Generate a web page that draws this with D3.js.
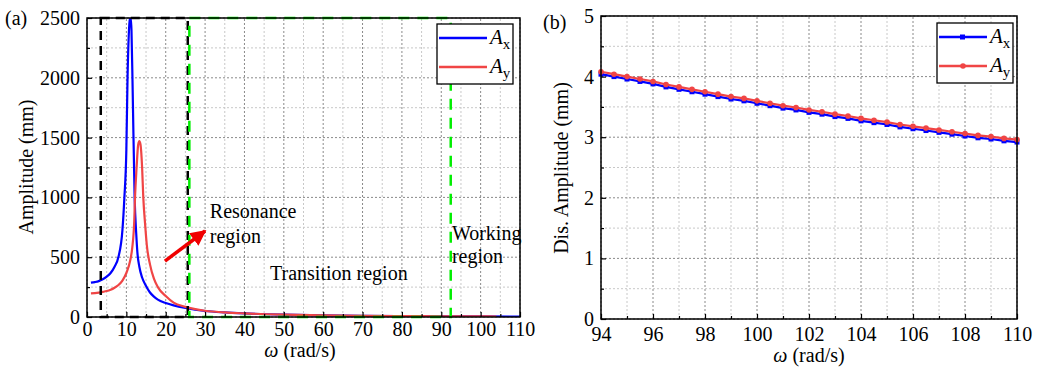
<!DOCTYPE html>
<html>
<head>
<meta charset="utf-8">
<script src="https://cdn.jsdelivr.net/npm/d3@7"></script>
<style>
  body { margin: 0; background: #fff; }
  svg text { font-family: "Liberation Serif", "DejaVu Serif", serif !important; }
</style>
</head>
<body>
<svg id="chart" width="1041" height="370"></svg>
<script>
// panel (a): frequency response
const axOmega = [1, 2, 3, 4, 5, 6, 7, 8, 9, 9.5, 10, 10.3, 10.6, 10.9, 11.1, 11.3, 11.6, 12.1, 12.5, 12.8, 13.3, 14, 15, 16, 17, 18, 20, 22, 25, 30, 35, 40, 50, 60, 70, 80, 90, 100, 110];
const axAmp = [287, 292, 300, 315, 337, 368, 420, 504, 727, 1000, 1400, 2000, 2350, 2490, 2500, 2400, 1900, 1000, 700, 540, 420, 330, 260, 205, 170, 145, 117, 97, 75, 50, 38, 30, 20, 14, 10, 8, 6, 5, 4];
const ayOmega = [1, 2, 3, 4, 5, 6, 7, 8, 9, 10, 11, 11.5, 12, 12.2, 12.6, 13, 13.3, 13.6, 14, 14.3, 14.8, 15.2, 16, 17, 18, 20, 22, 25, 30, 35, 40, 50, 60, 70, 80, 90, 100, 104];
const ayAmp = [198, 200, 204, 210, 217, 228, 245, 268, 305, 368, 476, 580, 800, 1000, 1250, 1440, 1470, 1440, 1250, 1000, 760, 600, 440, 320, 250, 175, 120, 85, 52, 38, 30, 20, 14, 10, 8, 6, 5, 4];
const aXTicks = [0, 10, 20, 30, 40, 50, 60, 70, 80, 90, 100, 110];
const aYTicks = [0, 500, 1000, 1500, 2000, 2500];
const resonanceBox = [3.5, 25.6];
const transitionBox = [26, 92.4];

// panel (b): zoom on working region
const bOmega = [94, 94.5, 95, 95.5, 96, 96.5, 97, 97.5, 98, 98.5, 99, 99.5, 100, 100.5, 101, 101.5, 102, 102.5, 103, 103.5, 104, 104.5, 105, 105.5, 106, 106.5, 107, 107.5, 108, 108.5, 109, 109.5, 110];
const bAx = [4.04, 4.00, 3.96, 3.92, 3.88, 3.83, 3.79, 3.75, 3.71, 3.67, 3.63, 3.60, 3.56, 3.52, 3.48, 3.45, 3.41, 3.38, 3.34, 3.31, 3.27, 3.24, 3.21, 3.17, 3.14, 3.11, 3.08, 3.05, 3.02, 2.99, 2.97, 2.94, 2.92];
const bAy = [4.08, 4.04, 4.00, 3.96, 3.92, 3.87, 3.83, 3.79, 3.75, 3.71, 3.67, 3.64, 3.60, 3.56, 3.52, 3.49, 3.45, 3.42, 3.38, 3.35, 3.31, 3.28, 3.25, 3.21, 3.18, 3.15, 3.12, 3.09, 3.06, 3.03, 3.01, 2.98, 2.96];
const bXTicks = [94, 96, 98, 100, 102, 104, 106, 108, 110];
const bYTicks = [0, 1, 2, 3, 4, 5];

const BLUE = "#0000ff", RED = "#f04545";
const FONT = '"Liberation Serif", serif';
const svg = d3.select("#chart").attr("font-family", FONT);

const defs = svg.append("defs");
defs.append("marker").attr("id", "arr")
  .attr("viewBox", "0 0 10 10").attr("refX", 9).attr("refY", 5)
  .attr("markerWidth", 4.5).attr("markerHeight", 4.5).attr("orient", "auto")
  .append("path").attr("d", "M0,0L10,5L0,10z").attr("fill", "#f00000");

function frame(g, x, y, xTicks, yTicks, xMinor, yMinor) {
  const [x0, x1] = x.range(), [y0, y1] = y.range();
  // minor grid
  g.append("g").selectAll("line").data(xMinor).join("line")
    .attr("x1", d => x(d)).attr("x2", d => x(d)).attr("y1", y0).attr("y2", y1)
    .attr("stroke", "#c8c8c8").attr("stroke-dasharray", "2,2");
  g.append("g").selectAll("line").data(yMinor).join("line")
    .attr("y1", d => y(d)).attr("y2", d => y(d)).attr("x1", x0).attr("x2", x1)
    .attr("stroke", "#c8c8c8").attr("stroke-dasharray", "2,2");
  // major grid
  g.append("g").selectAll("line").data(xTicks).join("line")
    .attr("x1", d => x(d)).attr("x2", d => x(d)).attr("y1", y0).attr("y2", y1)
    .attr("stroke", "#8a8a8a").attr("stroke-dasharray", "2,2");
  g.append("g").selectAll("line").data(yTicks).join("line")
    .attr("y1", d => y(d)).attr("y2", d => y(d)).attr("x1", x0).attr("x2", x1)
    .attr("stroke", "#8a8a8a").attr("stroke-dasharray", "2,2");
}

function axes(g, x, y, xTicks, yTicks, xMinor, yMinor, xPad) {
  const [x0, x1] = x.range(), [y0, y1] = y.range();
  g.append("g").attr("transform", `translate(0,${y0})`)
    .call(d3.axisBottom(x).tickValues(xTicks).tickSize(-5).tickPadding(xPad).tickFormat(d3.format("d")));
  g.append("g").attr("transform", `translate(0,${y0})`)
    .call(d3.axisBottom(x).tickValues(xMinor).tickSize(-3).tickFormat(""));
  g.append("g").attr("transform", `translate(${x0},0)`)
    .call(d3.axisLeft(y).tickValues(yTicks).tickSize(-5).tickPadding(7).tickFormat(d3.format("d")));
  g.append("g").attr("transform", `translate(${x0},0)`)
    .call(d3.axisLeft(y).tickValues(yMinor).tickSize(-3).tickFormat(""));
  g.selectAll(".domain").remove();
  g.selectAll(".tick line").attr("stroke", "#000").attr("stroke-width", 1.2);
  g.selectAll(".tick text").attr("font-size", 20).attr("fill", "#000").attr("font-family", FONT);
  g.append("rect").attr("x", x0).attr("y", y1).attr("width", x1 - x0).attr("height", y0 - y1)
    .attr("fill", "none").attr("stroke", "#000").attr("stroke-width", 1.5);
}

function legend(g, bx, by, markers) {
  g.append("rect").attr("x", bx).attr("y", by).attr("width", 76).attr("height", 60)
    .attr("fill", "#fff").attr("stroke", "#000").attr("stroke-width", 1.3);
  const items = [{c: BLUE, s: "x", m: "rect"}, {c: RED, s: "y", m: "circle"}];
  items.forEach((it, i) => {
    const yy = by + 14 + i * 29;
    g.append("line").attr("x1", bx + 2).attr("x2", bx + 50).attr("y1", yy).attr("y2", yy)
      .attr("stroke", it.c).attr("stroke-width", 2.5);
    if (markers) {
      if (it.m === "rect") g.append("rect").attr("x", bx + 23).attr("y", yy - 2.5).attr("width", 5).attr("height", 5).attr("fill", it.c);
      else g.append("circle").attr("cx", bx + 26).attr("cy", yy).attr("r", 2.8).attr("fill", it.c);
    }
    const t = g.append("text").attr("x", bx + 53).attr("y", yy + 6).attr("font-size", 21);
    t.append("tspan").attr("font-style", "italic").text("A");
    t.append("tspan").attr("font-size", 15).attr("dy", 5).text(it.s);
  });
}

// ---------- panel (a)
const xa = d3.scaleLinear().domain([0, 110]).range([87, 520]);
const ya = d3.scaleLinear().domain([0, 2500]).range([317, 18]);
const ga = svg.append("g");
frame(ga, xa, ya, aXTicks, aYTicks, d3.range(5, 110, 10), d3.range(250, 2500, 500));

defs.append("clipPath").attr("id", "clipA").append("rect")
  .attr("x", 87).attr("y", 18).attr("width", 433).attr("height", 299);

const lineA = d3.line().x(d => xa(d[0])).y(d => ya(d[1])).curve(d3.curveMonotoneX);
const curves = ga.append("g").attr("clip-path", "url(#clipA)");
curves.append("path").datum(d3.zip(axOmega, axAmp)).attr("d", lineA)
  .attr("fill", "none").attr("stroke", BLUE).attr("stroke-width", 2.2);
curves.append("path").datum(d3.zip(ayOmega, ayAmp)).attr("d", lineA)
  .attr("fill", "none").attr("stroke", RED).attr("stroke-width", 2.2);

// region boxes
ga.append("rect").attr("x", xa(resonanceBox[0])).attr("y", ya(2500))
  .attr("width", xa(resonanceBox[1]) - xa(resonanceBox[0])).attr("height", ya(0) - ya(2500))
  .attr("fill", "none").attr("stroke", "#000").attr("stroke-width", 2.5).attr("stroke-dasharray", "9,6");
ga.append("rect").attr("x", xa(transitionBox[0])).attr("y", ya(2500))
  .attr("width", xa(transitionBox[1]) - xa(transitionBox[0])).attr("height", ya(0) - ya(2500))
  .attr("fill", "none").attr("stroke", "#00ee00").attr("stroke-width", 2.5).attr("stroke-dasharray", "11,8");

// annotations
ga.append("line").attr("x1", xa(19.8)).attr("y1", ya(468)).attr("x2", xa(30)).attr("y2", ya(719))
  .attr("stroke", "#f00000").attr("stroke-width", 3.5).attr("marker-end", "url(#arr)");
const ann = [
  {t: "Resonance", w: 31.2, v: 828}, {t: "region", w: 31.2, v: 619},
  {t: "Transition region", w: 46.5, v: 309},
  {t: "Working", w: 92.7, v: 644}, {t: "region", w: 92.7, v: 451}
];
ga.selectAll("text.ann").data(ann).join("text").attr("class", "ann")
  .attr("x", d => xa(d.w)).attr("y", d => ya(d.v)).attr("font-size", 20).text(d => d.t);

axes(ga, xa, ya, aXTicks, aYTicks, d3.range(5, 110, 10), d3.range(250, 2500, 500), 5);
legend(ga, 437, 24, false);

ga.append("text").attr("x", 5).attr("y", 25).attr("font-size", 20).text("(a)");
ga.append("text").attr("transform", "translate(33,167) rotate(-90)").attr("text-anchor", "middle")
  .attr("font-size", 20).text("Amplitude (mm)");
const xtA = ga.append("text").attr("x", 300).attr("y", 357).attr("text-anchor", "middle").attr("font-size", 20);
xtA.append("tspan").attr("font-style", "italic").text("ω");
xtA.append("tspan").text(" (rad/s)");

// ---------- panel (b)
const xb = d3.scaleLinear().domain([94, 110]).range([601, 1017]);
const yb = d3.scaleLinear().domain([0, 5]).range([319, 16]);
const gb = svg.append("g");
frame(gb, xb, yb, bXTicks, bYTicks, d3.range(95, 110, 2), [0.5, 1.5, 2.5, 3.5, 4.5]);

const lineB = d3.line().x(d => xb(d[0])).y(d => yb(d[1]));
gb.append("path").datum(d3.zip(bOmega, bAx)).attr("d", lineB)
  .attr("fill", "none").attr("stroke", BLUE).attr("stroke-width", 2.2);
gb.append("g").selectAll("rect").data(d3.zip(bOmega, bAx)).join("rect")
  .attr("x", d => xb(d[0]) - 2.5).attr("y", d => yb(d[1]) - 2.5).attr("width", 5).attr("height", 5)
  .attr("fill", BLUE);
gb.append("path").datum(d3.zip(bOmega, bAy)).attr("d", lineB)
  .attr("fill", "none").attr("stroke", RED).attr("stroke-width", 2.2);
gb.append("g").selectAll("circle").data(d3.zip(bOmega, bAy)).join("circle")
  .attr("cx", d => xb(d[0])).attr("cy", d => yb(d[1])).attr("r", 2.8).attr("fill", RED);

axes(gb, xb, yb, bXTicks, bYTicks, d3.range(95, 110, 2), [0.5, 1.5, 2.5, 3.5, 4.5], 8);
legend(gb, 937, 23, true);

gb.append("text").attr("x", 543).attr("y", 29).attr("font-size", 20).text("(b)");
gb.append("text").attr("transform", "translate(568,168) rotate(-90)").attr("text-anchor", "middle")
  .attr("font-size", 20).text("Dis. Amplitude (mm)");
const xtB = gb.append("text").attr("x", 809).attr("y", 362).attr("text-anchor", "middle").attr("font-size", 20);
xtB.append("tspan").attr("font-style", "italic").text("ω");
xtB.append("tspan").text(" (rad/s)");
</script>
</body>
</html>
